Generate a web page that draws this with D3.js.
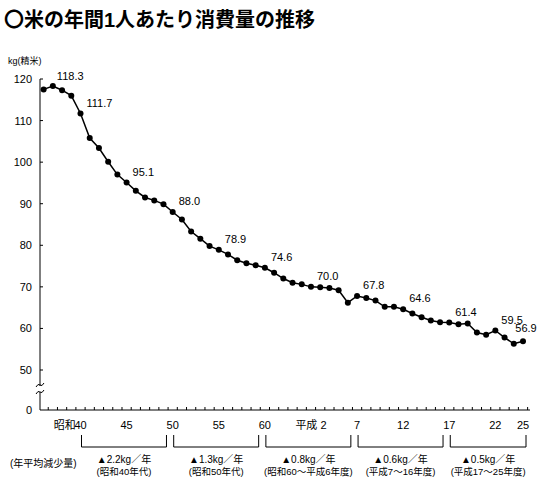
<!DOCTYPE html>
<html><head><meta charset="utf-8">
<script src="https://cdn.jsdelivr.net/npm/d3@7"></script>
<style>body{margin:0;background:#fff}text{font-family:"Liberation Sans","Noto Sans CJK JP",sans-serif}</style>
</head><body><svg id="c" width="553" height="482"></svg>
<script>
const years = d3.range(1961, 2014);
const values = [117.5,118.3,117.3,116.0,111.7,105.8,103.4,100.1,97.0,95.1,93.1,91.5,90.8,89.9,88.0,86.2,83.3,81.6,79.8,78.9,77.8,76.4,75.7,75.2,74.6,73.4,72.0,71.0,70.6,70.0,69.9,69.7,69.2,66.2,67.8,67.3,66.7,65.2,65.2,64.6,63.6,62.7,61.9,61.5,61.4,61.0,61.2,59.0,58.5,59.5,57.8,56.3,56.9];
const labeledYears = [1962,1965,1970,1975,1980,1985,1990,1995,2000,2005,2010,2013];
const yTicks = [50,60,70,80,90,100,110,120];
const xLabels = [[1963.3,"昭和"],[1965,"40"],[1970,"45"],[1975,"50"],[1980,"55"],[1985,"60"],[1990,"平成 2"],[1995,"7"],[2000,"12"],[2005,"17"],[2010,"22"],[2013,"25"]];
const periods = [[1965,1974,"▲2.2kg／年","(昭和40年代)"],[1975,1984,"▲1.3kg／年","(昭和50年代)"],[1985,1994,"▲0.8kg／年","(昭和60～平成6年度)"],[1995,2004,"▲0.6kg／年","(平成7～16年度)"],[2005,2013,"▲0.5kg／年","(平成17～25年度)"]];

const svg = d3.select("#c");
const x = d3.scaleLinear().domain([1965,2013]).range([80.5,523]);
const y = d3.scaleLinear().domain([50,120]).range([370,79]);
const y0 = 410;
const axX = 40;

svg.append("text").attr("x",4).attr("y",27).attr("font-size",20).attr("font-weight","bold").text("〇米の年間1人あたり消費量の推移");
svg.append("text").attr("x",8).attr("y",64).attr("font-size",9).text("kg(精米)");

svg.append("line").attr("x1",axX).attr("x2",axX).attr("y1",y(120)).attr("y2",y0).attr("stroke","#000");
yTicks.forEach(t=>{
  svg.append("line").attr("x1",axX).attr("x2",axX+3).attr("y1",y(t)).attr("y2",y(t)).attr("stroke","#000");
  svg.append("text").attr("x",axX-8).attr("y",y(t)+4).attr("text-anchor","end").attr("font-size",11).text(t);
});
svg.append("text").attr("x",axX-8).attr("y",y0+4).attr("text-anchor","end").attr("font-size",11).text(0);
svg.append("rect").attr("x",axX-1).attr("y",386).attr("width",2).attr("height",6).attr("fill","#fff");
[385,392].forEach(yy=>svg.append("path").attr("d",`M${axX-4},${yy+2} q2,-4 4,-2 q2,2 4,-2`).attr("fill","none").attr("stroke","#000"));

svg.append("line").attr("x1",axX).attr("x2",530).attr("y1",y0).attr("y2",y0).attr("stroke","#000");
d3.range(1960.5,2014,1).forEach(yr=>{ if(x(yr)>axX) svg.append("line").attr("x1",x(yr)).attr("x2",x(yr)).attr("y1",y0).attr("y2",y0-3).attr("stroke","#000");});
xLabels.forEach(([yr,l])=>svg.append("text").attr("x",x(yr)).attr("y",429).attr("text-anchor","middle").attr("font-size",11).text(l));

periods.forEach(([a,b,t1,t2])=>{
  const xa=x(a)+1,xb=x(b)+3;
  svg.append("path").attr("d",`M${xa},435V447H${xb}V435`).attr("fill","none").attr("stroke","#000");
  const cx=(xa+xb)/2;
  svg.append("text").attr("x",cx).attr("y",463).attr("text-anchor","middle").attr("font-size",10).text(t1);
  svg.append("text").attr("x",cx).attr("y",475).attr("text-anchor","middle").attr("font-size",9.5).text(t2);
});
svg.append("text").attr("x",10).attr("y",467).attr("font-size",10).text("(年平均減少量)");

const data = years.map((yr,i)=>({yr,v:values[i]}));
svg.append("path").datum(data).attr("d",d3.line().x(d=>x(d.yr)).y(d=>y(d.v))).attr("fill","none").attr("stroke","#000").attr("stroke-width",1.5);
svg.selectAll("circle").data(data).join("circle").attr("cx",d=>x(d.yr)).attr("cy",d=>y(d.v)).attr("r",3).attr("fill","#000");
data.filter(d=>labeledYears.includes(d.yr)).forEach(d=>{
  const first = d.yr===1962, last = d.yr===2013;
  const t = svg.append("text").attr("x",last?x(d.yr)+3:x(d.yr)+(first?4:6)).attr("y",y(d.v)-(first?6:(last?9:7))).attr("font-size",11).text(d.v.toFixed(1));
  if(last) t.attr("text-anchor","middle");
});
</script></body></html>
